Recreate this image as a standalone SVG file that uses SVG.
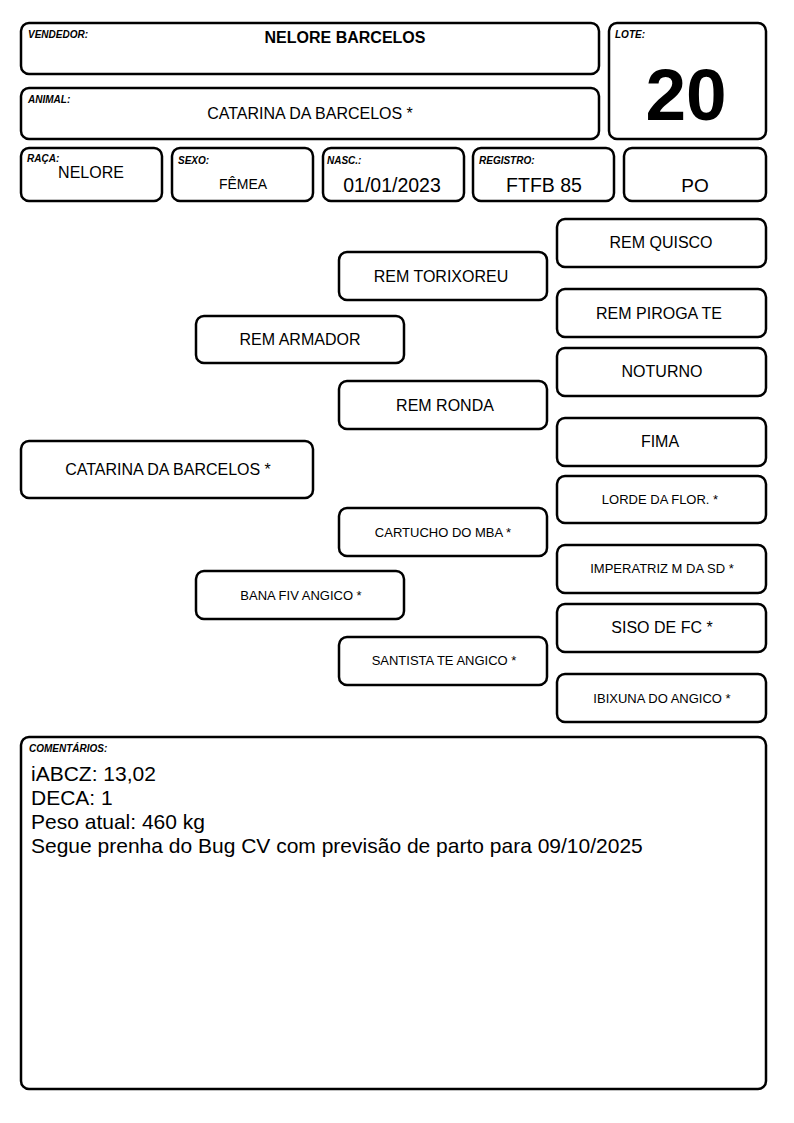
<svg xmlns="http://www.w3.org/2000/svg" width="794" height="1123" viewBox="0 0 794 1123">
<style>
rect.b{fill:#fff;stroke:#000;stroke-width:2.5}
text{font-family:"Liberation Sans",Arial,sans-serif;fill:#000}
.lbl{font-size:10px;font-weight:bold;font-style:italic}
.v{font-size:16px;text-anchor:middle}
.vs{font-size:13px;text-anchor:middle}
.p{font-size:16px;text-anchor:middle}
.ps{font-size:13px;text-anchor:middle}
.c{font-size:21px}
</style>
<rect width="794" height="1123" fill="#fff"/>
<g id="vendedor"><rect class="b" x="21" y="23" width="578" height="51" rx="8"/><text class="lbl" x="28" y="38">VENDEDOR:</text><text x="345" y="43" style="font-size:16px;font-weight:bold;text-anchor:middle">NELORE BARCELOS</text></g>
<g id="animal"><rect class="b" x="21" y="88" width="578" height="51" rx="8"/><text class="lbl" x="28" y="103">ANIMAL:</text><text class="v" x="310" y="119">CATARINA DA BARCELOS *</text></g>
<g id="lote"><rect class="b" x="609" y="23" width="157" height="116" rx="8"/><text class="lbl" x="615" y="38">LOTE:</text><text x="686" y="120" style="font-size:73px;font-weight:bold;text-anchor:middle">20</text></g>
<g id="raca"><rect class="b" x="21" y="148" width="141" height="53" rx="8"/><text class="lbl" x="27" y="162">RAÇA:</text><text class="v" x="91" y="178">NELORE</text></g>
<g id="sexo"><rect class="b" x="172" y="148" width="141" height="53" rx="8"/><text class="lbl" x="178" y="164">SEXO:</text><text class="vs" x="243" y="189" style="font-size:14px">FÊMEA</text></g>
<g id="nasc"><rect class="b" x="323" y="148" width="141" height="53" rx="8"/><text class="lbl" x="327" y="164">NASC.:</text><text class="v" x="392" y="192" style="font-size:19.5px">01/01/2023</text></g>
<g id="registro"><rect class="b" x="473" y="148" width="141" height="53" rx="8"/><text class="lbl" x="479" y="164">REGISTRO:</text><text class="v" x="544" y="192" style="font-size:19.5px">FTFB 85</text></g>
<g id="po"><rect class="b" x="624" y="148" width="142" height="53" rx="8"/><text class="v" x="695" y="192" style="font-size:19px">PO</text></g>

<g id="n-catarina"><rect class="b" x="21" y="441" width="292" height="57" rx="8"/><text class="p" x="168" y="475">CATARINA DA BARCELOS *</text></g>
<g id="n-armador"><rect class="b" x="196" y="316" width="208" height="47" rx="8"/><text class="p" x="300" y="345">REM ARMADOR</text></g>
<g id="n-bana"><rect class="b" x="196" y="571" width="208" height="48" rx="8"/><text class="ps" x="301" y="600">BANA FIV ANGICO *</text></g>
<g id="n-torixoreu"><rect class="b" x="339" y="252" width="208" height="48" rx="8"/><text class="p" x="441" y="282">REM TORIXOREU</text></g>
<g id="n-ronda"><rect class="b" x="339" y="381" width="208" height="48" rx="8"/><text class="p" x="445" y="411">REM RONDA</text></g>
<g id="n-cartucho"><rect class="b" x="339" y="508" width="208" height="48" rx="8"/><text class="ps" x="443" y="537">CARTUCHO DO MBA *</text></g>
<g id="n-santista"><rect class="b" x="339" y="637" width="208" height="48" rx="8"/><text class="ps" x="444" y="665">SANTISTA TE ANGICO *</text></g>
<g id="n-quisco"><rect class="b" x="557" y="219" width="209" height="48" rx="8"/><text class="p" x="661" y="248">REM QUISCO</text></g>
<g id="n-piroga"><rect class="b" x="557" y="289" width="209" height="48" rx="8"/><text class="p" x="659" y="319">REM PIROGA TE</text></g>
<g id="n-noturno"><rect class="b" x="557" y="348" width="209" height="48" rx="8"/><text class="p" x="662" y="377">NOTURNO</text></g>
<g id="n-fima"><rect class="b" x="557" y="418" width="209" height="48" rx="8"/><text class="p" x="660" y="447">FIMA</text></g>
<g id="n-lorde"><rect class="b" x="557" y="476" width="209" height="47" rx="8"/><text class="ps" x="660" y="504">LORDE DA FLOR. *</text></g>
<g id="n-imperatriz"><rect class="b" x="557" y="545" width="209" height="48" rx="8"/><text class="ps" x="662" y="573">IMPERATRIZ M DA SD *</text></g>
<g id="n-siso"><rect class="b" x="557" y="604" width="209" height="48" rx="8"/><text class="p" x="662" y="633">SISO DE FC *</text></g>
<g id="n-ibixuna"><rect class="b" x="557" y="674" width="209" height="48" rx="8"/><text class="ps" x="662" y="703">IBIXUNA DO ANGICO *</text></g>

<g id="comentarios"><rect class="b" x="21" y="737" width="745" height="352" rx="8"/><text class="lbl" x="29" y="752">COMENTÁRIOS:</text>
<text class="c" x="31" y="781">iABCZ: 13,02</text>
<text class="c" x="31" y="805">DECA: 1</text>
<text class="c" x="31" y="829">Peso atual: 460 kg</text>
<text class="c" x="31" y="853">Segue prenha do Bug CV com previsão de parto para 09/10/2025</text></g>
<g id="connectors"></g>
</svg>
